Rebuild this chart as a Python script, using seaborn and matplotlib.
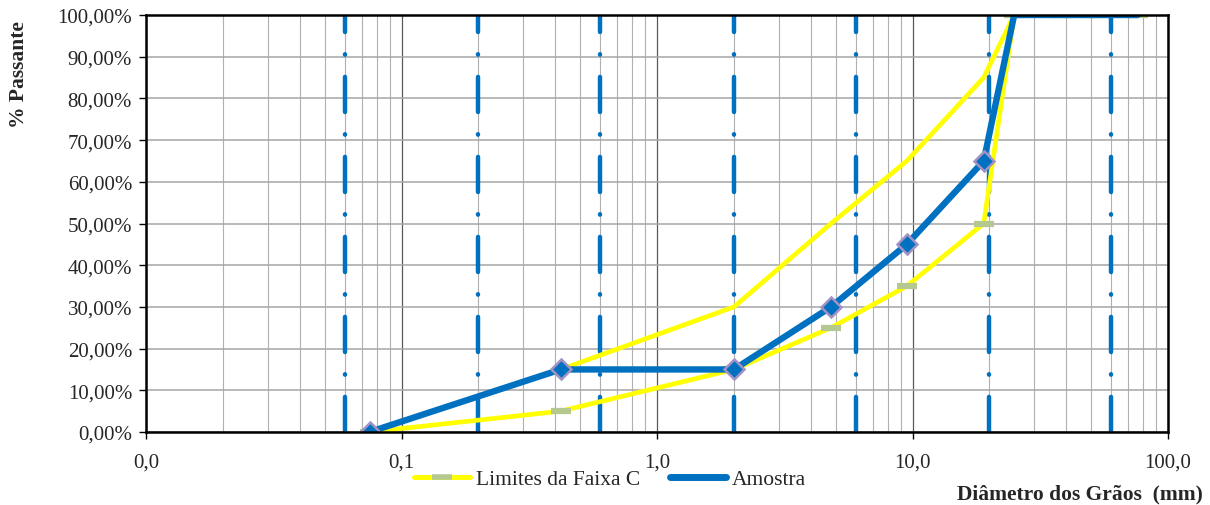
import numpy as np
import pandas as pd
import matplotlib
matplotlib.use('Agg')
import matplotlib.pyplot as plt
import seaborn as sns
from matplotlib.lines import Line2D
from matplotlib.ticker import FixedLocator, LogLocator, NullFormatter

# Amostra (sample) - sieve opening (mm) vs % passing
amostra_mm = [0.075, 0.42, 2.0, 4.8, 9.5, 19.0, 25.0, 38.0, 50.0, 76.0]
amostra_pct = [0, 15, 15, 30, 45, 65, 100, 100, 100, 100]

# Limites da Faixa C
inferior_mm = [0.075, 0.42, 2.0, 4.8, 9.5, 19.0, 25.0, 38.0, 50.0, 76.0]
inferior_pct = [0, 5, 15, 25, 35, 50, 100, 100, 100, 100]
superior_mm = [0.42, 2.0, 4.8, 9.5, 19.0, 25.0]
superior_pct = [15, 30, 50, 65, 85, 100]

# soil fraction boundaries (dash-dot verticals)
limites_solo = [0.06, 0.2, 0.6, 2.0, 6.0, 20.0, 60.0]

x_ticks = [0.01, 0.1, 1, 10, 100]
y_ticks = list(range(0, 101, 10))

sns.set_style('white')
plt.rcParams['font.family'] = ['Liberation Serif', 'DejaVu Serif']

fig = plt.figure(figsize=(12.1, 5.06), dpi=100)
ax = fig.add_axes([146 / 1210, 1 - 433 / 506, (1168 - 146) / 1210, (433 - 16) / 506])
ax.set_xscale('log')
ax.set_xlim(0.01, 100)
ax.set_ylim(0, 100)

# grid
ax.xaxis.set_major_locator(FixedLocator(x_ticks))
ax.xaxis.set_minor_locator(LogLocator(base=10, subs=np.arange(2, 10)))
ax.xaxis.set_minor_formatter(NullFormatter())
ax.yaxis.set_major_locator(FixedLocator(y_ticks))
ax.grid(which='major', axis='x', color='#595959', linewidth=0.9, zorder=0)
ax.grid(which='minor', axis='x', color='#b0b0b0', linewidth=0.8, zorder=0)
ax.grid(which='major', axis='y', color='#a6a6a6', linewidth=1.1, zorder=0)

# dash-dot verticals
for v in limites_solo:
    ax.axvline(v, color='#0070C0', linewidth=3.2, linestyle=(0, (7.9, 5.0, 0.1, 5.0)),
               dash_capstyle='round', zorder=1.5)

df_inf = pd.DataFrame({'mm': inferior_mm, 'pct': inferior_pct})
df_sup = pd.DataFrame({'mm': superior_mm, 'pct': superior_pct})
df_am = pd.DataFrame({'mm': amostra_mm, 'pct': amostra_pct})

sns.lineplot(data=df_sup, x='mm', y='pct', ax=ax, color='#FFFF00', linewidth=3.4,
             sort=False, zorder=3)
sns.lineplot(data=df_inf, x='mm', y='pct', ax=ax, color='#FFFF00', linewidth=3.4,
             marker='_', markersize=14, markeredgewidth=4.5, markeredgecolor='#B4C890',
             sort=False, zorder=3)
sns.lineplot(data=df_am, x='mm', y='pct', ax=ax, color='#0070C0', linewidth=4.6,
             sort=False, zorder=4)
sns.lineplot(data=df_am.iloc[:6], x='mm', y='pct', ax=ax, color='#0070C0', linewidth=0,
             marker='D', markersize=10.5, markerfacecolor='#0070C0',
             markeredgecolor='#A393C4', markeredgewidth=1.8, sort=False, zorder=5)

ax.set_xticklabels([f'{v:.1f}'.replace('.', ',') for v in x_ticks])
ax.set_yticklabels([f'{v:.2f}%'.replace('.', ',') for v in y_ticks])
ax.tick_params(axis='both', which='major', labelsize=15, length=5, width=1,
               color='black', direction='out', left=True, bottom=True)
ax.tick_params(axis='x', which='major', pad=10)
ax.tick_params(axis='y', which='major', pad=5)
ax.tick_params(axis='x', which='minor', length=0)
for s in ax.spines.values():
    s.set_color('black')
    s.set_linewidth(1.8)
    s.set_zorder(6)

ax.set_xlabel('')
ax.set_ylabel('')
fig.text(19 / 1210, 1 - 75 / 506, '% Passante', rotation=90, fontsize=15.5,
         fontweight='bold', ha='center', va='center')
fig.text(1203 / 1210, 1 - 494 / 506, 'Diâmetro dos Grãos  (mm)', fontsize=15.5,
         fontweight='bold', ha='right', va='center')

handles = [
    Line2D([], [], color='#FFFF00', linewidth=3.6, marker='_', markersize=14,
           markeredgewidth=4, markeredgecolor='#B4C890'),
    Line2D([], [], color='#0070C0', linewidth=5),
]
fig.legend(handles, ['Limites da Faixa C', 'Amostra'], loc='center',
           bbox_to_anchor=(610 / 1210, 1 - 480 / 506), ncol=2, frameon=False,
           fontsize=15.5, handlelength=2.6, handletextpad=0.25, columnspacing=1.4,
           borderpad=0)

fig.savefig('out.png', dpi=100)
